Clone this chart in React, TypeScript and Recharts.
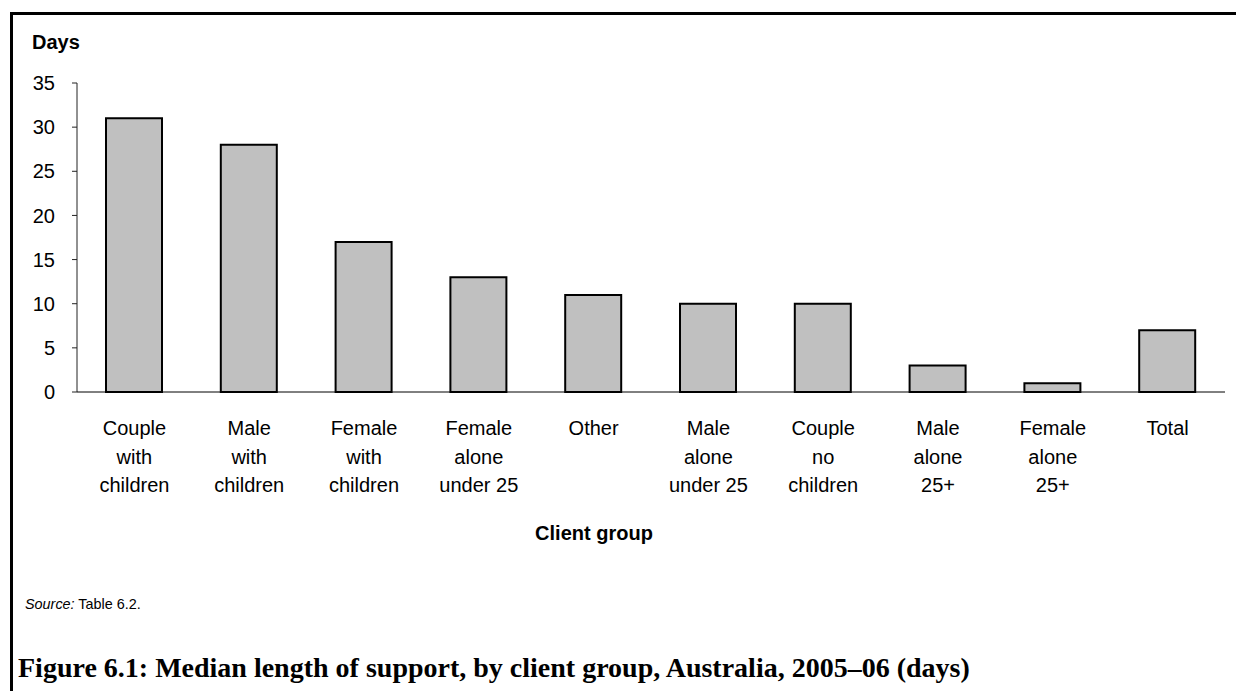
import React from "react";
import { BarChart, Bar, XAxis, YAxis } from "recharts";

const groups = [
  "Couple with children",
  "Male with children",
  "Female with children",
  "Female alone under 25",
  "Other",
  "Male alone under 25",
  "Couple no children",
  "Male alone 25+",
  "Female alone 25+",
  "Total",
];
const groupLines = [
  ["Couple", "with", "children"],
  ["Male", "with", "children"],
  ["Female", "with", "children"],
  ["Female", "alone", "under 25"],
  ["Other"],
  ["Male", "alone", "under 25"],
  ["Couple", "no", "children"],
  ["Male", "alone", "25+"],
  ["Female", "alone", "25+"],
  ["Total"],
];
const medianDays = [31, 28, 17, 13, 11, 10, 10, 3, 1, 7];
const yTicks = [0, 5, 10, 15, 20, 25, 30, 35];

const data = groups.map((g, i) => ({ group: g, days: medianDays[i] }));

const SANS = "Arial, 'Liberation Sans', Helvetica, sans-serif";
const SERIF = "'Book Antiqua', Palatino, 'Liberation Serif', serif";

const CategoryTick = ({ x, y, payload, index }: any) => {
  const lines = groupLines[index] ?? [payload.value];
  return (
    <text x={x} y={y + 43} textAnchor="middle" fontFamily={SANS} fontSize={20} fill="#000">
      {lines.map((l: string, i: number) => (
        <tspan key={i} x={x} dy={i === 0 ? 0 : 28.5}>
          {l}
        </tspan>
      ))}
    </text>
  );
};

export default function App() {
  return (
    <div
      style={{
        position: "absolute",
        left: 0,
        top: 0,
        width: 1236,
        height: 691,
        background: "#fff",
        overflow: "hidden",
        fontFamily: SANS,
      }}
    >
      <div
        style={{
          position: "absolute",
          left: 10,
          top: 12,
          width: 1226,
          height: 679,
          borderTop: "3px solid #000",
          borderLeft: "3px solid #000",
        }}
      />
      <div style={{ position: "absolute", left: 32, top: 32, fontSize: 20, lineHeight: "20px", fontWeight: "bold" }}>
        Days
      </div>
      <div style={{ position: "absolute", left: 0, top: 0 }}>
        <BarChart width={1236} height={520} data={data} margin={{ top: 83, right: 11, left: 0, bottom: 0 }}>
          <YAxis
            domain={[0, 35]}
            ticks={yTicks}
            width={77}
            tickSize={5}
            tickMargin={17}
            axisLine={{ stroke: "#222", strokeWidth: 1 }}
            tickLine={{ stroke: "#222", strokeWidth: 1 }}
            tick={{ fontSize: 20, fill: "#000", fontFamily: SANS }}
          />
          <XAxis
            dataKey="group"
            interval={0}
            height={128}
            tickSize={0}
            tickMargin={0}
            tickLine={false}
            axisLine={{ stroke: "#000", strokeWidth: 1 }}
            tick={<CategoryTick />}
          />
          <Bar dataKey="days" fill="#c0c0c0" stroke="#000" strokeWidth={2} barSize={56} isAnimationActive={false} />
        </BarChart>
      </div>
      <div
        style={{
          position: "absolute",
          left: 494,
          top: 523,
          width: 200,
          textAlign: "center",
          fontSize: 20,
          lineHeight: "20px",
          fontWeight: "bold",
        }}
      >
        Client group
      </div>
      <div style={{ position: "absolute", left: 25, top: 597, fontSize: 14.4, lineHeight: "14px" }}>
        <i>Source:</i> Table 6.2.
      </div>
      <div
        style={{
          position: "absolute",
          left: 18,
          top: 654,
          fontFamily: SERIF,
          fontSize: 28,
          lineHeight: "28px",
          fontWeight: "bold",
          whiteSpace: "nowrap",
        }}
      >
        Figure 6.1: Median length of support, by client group, Australia, 2005–06 (days)
      </div>
    </div>
  );
}
